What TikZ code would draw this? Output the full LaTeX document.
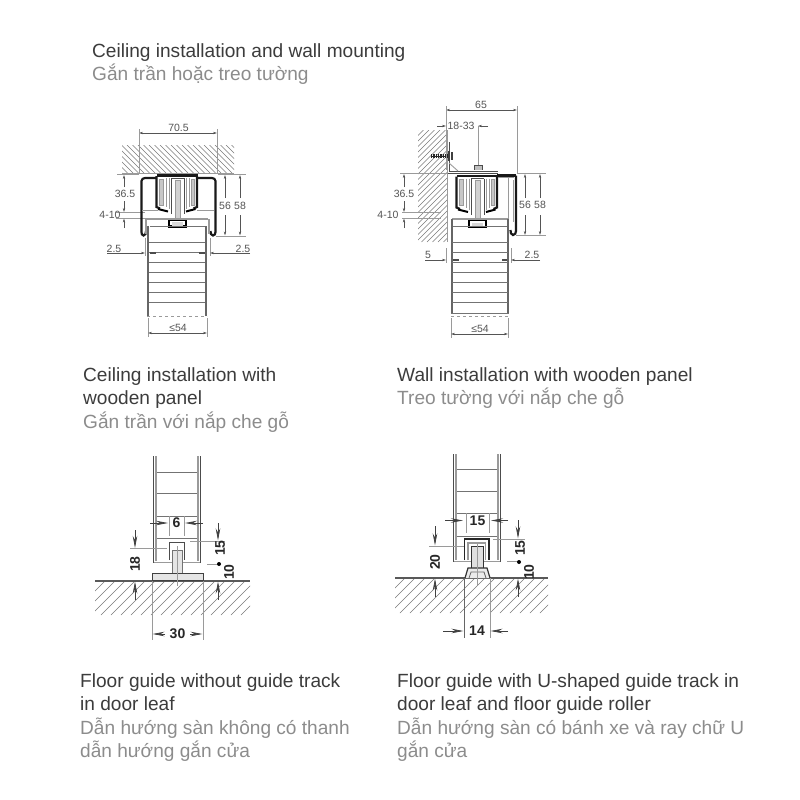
\documentclass[tikz,border=0pt]{standalone}
\usepackage{fontspec}
\setmainfont{Liberation Sans}
\usetikzlibrary{arrows.meta}
\definecolor{inkdark}{HTML}{3C3C3C}
\definecolor{inkgrey}{HTML}{8C8C8C}
\definecolor{dimc}{HTML}{555555}
\definecolor{hatchc}{HTML}{7A7A7A}
\definecolor{railgrey}{HTML}{9A9A9A}
\tikzset{
  heading/.style={anchor=base west,inner sep=0pt,yshift=-1pt,text=inkdark,font=\fontsize{19.1}{22}\selectfont},
  subheading/.style={heading,text=inkgrey},
  dimlabel/.style={inner sep=0pt,text=dimc,font=\fontsize{10.5}{12}\selectfont},
  boldlabel/.style={inner sep=0pt,text=black!85,font=\fontsize{14}{15}\selectfont\bfseries},
  dimthin/.style={draw=dimc,line width=0.6pt},
  extline/.style={draw=railgrey,line width=0.7pt},
  tinyarrow/.style={dimthin,-{Stealth[length=4pt,width=2.4pt]}},
  tinyboth/.style={dimthin,{Stealth[length=4pt,width=2.4pt]}-{Stealth[length=4pt,width=2.4pt]}},
  bigarrow/.style={draw=black!75,line width=0.8pt,-{Stealth[length=12pt,width=4.5pt]}},
  hatchline/.style={draw=hatchc,line width=0.6pt},
  railthick/.style={draw=black!90,line width=2.2pt},
  railthin/.style={draw=black!70,line width=0.9pt},
  railsoft/.style={draw=railgrey,line width=0.9pt},
  wheelfill/.style={draw=railgrey,fill=black!22,line width=0.6pt},
  doorside/.style={draw=black!60,line width=1.8pt},
  doorsoft/.style={draw=railgrey,line width=1.6pt},
  doorrung/.style={draw=black!55,line width=0.7pt},
}
% hatch: x1 y1 x2 y2 spacing direction(+1 = "/", -1 = "\")
\newcommand\hatchbox[6]{%
  \begin{scope}
    \clip (#1,#2) rectangle (#3,#4);
    \pgfmathsetmacro\hh{#4-#2}
    \pgfmathsetmacro\xa{#1-\hh-#5}
    \pgfmathsetmacro\xb{\xa+#5}
    \foreach \xx in {\xa,\xb,...,#3} {
      \ifnum#6>0
        \draw[hatchline] (\xx,#4) -- (\xx+\hh,#2);
      \else
        \draw[hatchline] (\xx,#2) -- (\xx+\hh,#4);
      \fi
    }
  \end{scope}}
% roller carriage, drawn for diagram 1 and shifted for diagram 2
\newcommand\carriagepart{%
  \draw[wheelfill] (159.5,179) rectangle (163,205);
  \draw[wheelfill] (191,179) rectangle (194.5,205);
  \draw[railsoft] (166,178) -- (166,207) (169,178) -- (169,209) (186,178) -- (186,209) (189,178) -- (189,207);
  \draw[railthick] (156.5,175.5) -- (198,175.5);
  \draw[railthick] (156.5,176) -- (156.5,207) -- (160,208.5);
  \draw[black,line width=2pt] (158,209) -- (168,211.5);
  \draw[railthick] (197,176) -- (197,207) -- (193.5,208.5);
  \draw[black,line width=2pt] (195.5,209) -- (186,211.5);
  \draw[railthin] (171,178) -- (171,214) (184,178) -- (184,214);
  \draw[draw=black!40,fill=black!18,line width=0.6pt] (175,180) rectangle (180,218);
  \draw[railthin] (171,178) -- (184,178);
  \draw[black,line width=2.4pt] (169,219.5) rectangle (186,226.5);
  \draw[fill=black!15,draw=none] (172,222) rectangle (183,226);
}
\newcommand\panelrungs[2]{%
  \foreach \yy in {242,252,262,272,282,292,302} \draw[doorrung] (#1,\yy) -- (#2,\yy);
}
\begin{document}
\begin{tikzpicture}[x=1pt,y=-1pt]
\useasboundingbox[fill=white] (0,0) rectangle (800,800);

%% headings
\node[heading] (h1) at (92,56) {Ceiling installation and wall mounting};
\node[subheading] (h1b) at (92,80) {Gắn trần hoặc treo tường};
\node[heading] (h2) at (83,380) {Ceiling installation with};
\node[heading] (h2a) at (83,403) {wooden panel};
\node[subheading] (h2b) at (83,427) {Gắn trần với nắp che gỗ};
\node[heading] (h3) at (397,380) {Wall installation with wooden panel};
\node[subheading] (h3b) at (397,403) {Treo tường với nắp che gỗ};
\node[heading] (h4) at (80,686) {Floor guide without guide track};
\node[heading] (h4a) at (80,709) {in door leaf};
\node[subheading] (h4b) at (80,733) {Dẫn hướng sàn không có thanh};
\node[subheading] (h4c) at (80,756) {dẫn hướng gắn cửa};
\node[heading] (h5) at (397,686) {Floor guide with U-shaped guide track in};
\node[heading] (h5a) at (397,709) {door leaf and floor guide roller};
\node[subheading] (h5b) at (397,733) {Dẫn hướng sàn có bánh xe và ray chữ U};
\node[subheading] (h5c) at (397,756) {gắn cửa};

%% ---------- diagram 1: ceiling
\hatchbox{122}{145}{234}{173}{5.5}{-1}
\draw[extline] (122,173.5) -- (234,173.5);
\draw[extline] (116,212.5) -- (145,212.5) (116,218) -- (145,218);
\carriagepart
% outer profile with hooks
\draw[railthick] (156.5,178) -- (145,178) to[out=180,in=90] (141.5,181) -- (141.5,232) to[out=270,in=180] (143.5,235.5) to[out=0,in=270] (146,231);
\draw[railthick] (197,178) -- (212,178) to[out=0,in=90] (215.5,181) -- (215.5,232) to[out=270,in=0] (213,235.5) to[out=180,in=270] (210.5,231);
\draw[railsoft] (142,210.5) -- (158,210.5) (197,210.5) -- (214,210.5);
% door
\draw[doorsoft] (145,219) -- (208,219);
\draw[doorsoft] (146,219) -- (146,234) (209,219) -- (209,234);
\draw[doorrung] (150,226) -- (205,226);
\draw[doorside] (148,226) -- (148,316);
\draw[doorside] (206,226) -- (206,316);
\panelrungs{149}{205}
\draw[doorsoft,dashed,line width=1pt] (147,316) -- (207,316);
\draw[black!70,line width=1.5pt] (150,253) -- (156,253) (199,253) -- (205,253);
% dims
\draw[tinyboth] (139,133) -- (217,133);
\draw[extline] (139,129) -- (139,174) (217,129) -- (217,174);
\node[dimlabel] (d1a) at (178.5,128) {70.5};
\draw[extline] (218,174.5) -- (246,174.5) (216,236) -- (246,236);
\draw[tinyarrow] (225,198) -- (225,175);
\draw[tinyarrow] (225,215) -- (225,235.5);
\node[dimlabel] (d1b) at (225,206) {56};
\draw[tinyarrow] (240,198) -- (240,175);
\draw[tinyarrow] (240,215) -- (240,235.5);
\node[dimlabel] (d1c) at (240,206) {58};
\draw[tinyarrow] (124,187) -- (124,175);
\draw[extline] (117,174.5) -- (139,174.5);
\node[dimlabel] (d1d) at (125,194) {36.5};
\draw[tinyarrow] (124,201) -- (124,212);
\draw[tinyarrow] (124,228) -- (124,218.5);
\node[dimlabel] (d1e) at (110,215) {4-10};
\draw[extline] (145,238) -- (145,256) (210,238) -- (210,256);
\draw[tinyarrow] (107,253) -- (145,253);
\draw[tinyarrow] (250,253) -- (210,253);
\node[dimlabel] (d1f) at (114,248.5) {2.5};
\node[dimlabel] (d1g) at (243,248.5) {2.5};
\draw[extline] (148,318) -- (148,337) (207,318) -- (207,337);
\draw[tinyboth] (148,333) -- (207,333);
\node[dimlabel] (d1h) at (178,328) {≤54};

%% ---------- diagram 2: wall
\hatchbox{418}{130}{447}{242}{5.5}{1}
\draw[extline] (447,130) -- (447,242);
\draw[extline] (402,212) -- (441,212) (402,218) -- (441,218);
\begin{scope}[xshift=300pt,yshift=-0.5pt]
  \carriagepart
\end{scope}
% bracket
\draw[railthin] (449,142) -- (449,171.5) -- (498,171.5);
\draw[railthin] (447.5,173.5) -- (498,173.5);
\draw[railsoft] (449,163) -- (458,171);
\draw[draw=black!70,fill=black!25,line width=0.7pt] (474,169.5) -- (474,165) -- (482,165) -- (482,169.5);
\draw[black!85,line width=4pt,dash pattern=on 1.4pt off 0.9pt] (431,156) -- (449,156);
\draw[black!85,line width=1pt] (431,156) -- (449,156);
\draw[draw=black!75,line width=1.2pt] (449,151) -- (449,161) (452,152) -- (452,160);
% long right profile
\draw[railthick] (497,175.5) -- (516,175.5);
\draw[railthick] (516,175.5) -- (516,231) to[out=270,in=0] (513,235) to[out=180,in=270] (510.5,230);
\draw[railsoft] (508,177) -- (508,219);
\draw[railsoft] (513,180) -- (513,222);
\draw[railsoft,line width=1.4pt] (498,177.5) -- (514,177.5);
% door
\draw[doorsoft] (452,219) -- (508,219);
\draw[doorrung] (452,226) -- (508,226);
\draw[doorside] (452,219) -- (452,313);
\draw[doorside] (508,219) -- (508,313);
\panelrungs{452}{508}
\draw[doorrung,line width=1pt] (451,313) -- (509,313);
\draw[doorsoft,dashed,line width=1pt] (451,316) -- (509,316);
\draw[black!70,line width=1.5pt] (453,260) -- (459,260) (502,260) -- (507,260);
% dims
\draw[tinyboth] (446,110) -- (517,110);
\draw[extline] (446,106) -- (446,170) (517,106) -- (517,173);
\node[dimlabel] (d2a) at (481,105) {65};
\draw[tinyarrow] (437,126) -- (446,126);
\draw[tinyarrow] (488,126) -- (478,126);
\draw[extline] (478,126) -- (478,165);
\node[dimlabel] (d2b) at (461,126) {18-33};
\draw[extline] (400,173) -- (447,173) (517,173) -- (546,173) (516,235.5) -- (546,235.5);
\draw[tinyarrow] (404,187) -- (404,174);
\node[dimlabel] (d2c) at (404,194) {36.5};
\draw[tinyarrow] (404,201) -- (404,212);
\draw[tinyarrow] (404,228) -- (404,218.5);
\node[dimlabel] (d2d) at (388,215) {4-10};
\draw[tinyarrow] (525,198) -- (525,174);
\draw[tinyarrow] (525,215) -- (525,235);
\node[dimlabel] (d2e) at (525,205) {56};
\draw[tinyarrow] (540,198) -- (540,174);
\draw[tinyarrow] (540,215) -- (540,235);
\node[dimlabel] (d2f) at (540,205) {58};
\draw[extline] (446,248) -- (446,263) (511,248) -- (511,263);
\draw[tinyarrow] (425,260) -- (446,260);
\draw[tinyarrow] (540,260) -- (511,260);
\node[dimlabel] (d2g) at (428,254.5) {5};
\node[dimlabel] (d2h) at (532,254.5) {2.5};
\draw[extline] (451,318) -- (451,338) (508,318) -- (508,338);
\draw[tinyboth] (451,334) -- (508,334);
\node[dimlabel] (d2i) at (480,329) {≤54};

%% ---------- diagram 3: floor guide without track
\hatchbox{95}{581}{250}{615}{10}{1}
\draw[black!65,line width=1.2pt] (95,581) -- (250,581);
\draw[black!70,line width=1.4pt] (153.5,456) -- (153.5,563) (200.5,456) -- (200.5,563);
\draw[railgrey,line width=2.2pt] (156,456) -- (156,561) (198,456) -- (198,561);
\foreach \yy in {472,493,516,538} \draw[doorrung] (157,\yy) -- (197,\yy);
\draw[railgrey,line width=1.6pt] (154,562.5) -- (200,562.5);
% guide block
\draw[draw=black!70,fill=white,line width=1pt] (169,560) -- (169,542) -- (184,542) -- (184,560);
\draw[draw=black!55,fill=black!10,line width=1pt] (172,573) -- (172,550) -- (182,550) -- (182,573);
\draw[draw=black!75,fill=black!10,line width=1pt] (152,580) rectangle (203,573.5);
\draw[railgrey,line width=0.6pt] (177,546) -- (177,586);
% dims
\draw[railgrey,line width=0.7pt] (169,516) -- (169,536) (184,516) -- (184,536);
\draw[bigarrow] (150,523) -- (168,523);
\draw[bigarrow] (203,523) -- (185,523);
\node[boldlabel] (d3a) at (176.5,523) {6};
\draw[extline] (130,548.5) -- (167,548.5);
\draw[bigarrow] (135,530) -- (135,548);
\draw[bigarrow] (135,600) -- (135,581.5);
\node[boldlabel,rotate=90] (d3b) at (135,564) {18};
\draw[extline] (190,541) -- (225,541) (207,564) -- (219,564);
\draw[bigarrow] (218,523) -- (218,540.5);
\draw[bigarrow] (218,600) -- (218,581.5);
\node[boldlabel,rotate=90] (d3c) at (220,548) {15};
\fill[black] (219,564) circle (2pt);
\node[boldlabel,rotate=90] (d3d) at (229,572) {10};
\draw[extline] (152,581) -- (152,640) (203,581) -- (203,640);
\draw[bigarrow] (165,634) -- (152.5,634);
\draw[bigarrow] (190,634) -- (202.5,634);
\node[boldlabel] (d3e) at (177.5,634) {30};

%% ---------- diagram 4: floor guide with U-track
\hatchbox{395}{578}{548}{613}{10}{1}
\draw[black!65,line width=1.2pt] (395,578) -- (548,578);
\draw[black!70,line width=1.4pt] (453.5,454) -- (453.5,562) (500.5,454) -- (500.5,562);
\draw[railgrey,line width=2.2pt] (456,454) -- (456,560) (498,454) -- (498,560);
\foreach \yy in {469,491,513,536} \draw[doorrung] (457,\yy) -- (497,\yy);
\draw[railgrey,line width=1.6pt] (454,561.5) -- (500,561.5);
% track and roller
\draw[draw=black!85,line width=1.6pt] (464.5,560) -- (464.5,539) -- (489,539) -- (489,560);
\draw[railgrey,line width=1.2pt] (468,560) -- (468,543) -- (485.5,543) -- (485.5,560);
\draw[draw=black!80,fill=black!12,line width=1pt] (471,568) -- (471,546) -- (483,546) -- (483,568);
\draw[draw=black!80,fill=black!8,line width=1.2pt] (465,578) -- (468,568) -- (487,568) -- (490,578);
\draw[draw=black!60,line width=0.8pt] (469,578) -- (471,572) -- (484,572) -- (486,578);
\draw[railgrey,line width=0.6pt] (477,543) -- (477,585);
% dims
\draw[railgrey,line width=0.7pt] (466,513) -- (466,533) (489,513) -- (489,533);
\draw[bigarrow] (445,520.5) -- (463,520.5);
\draw[bigarrow] (508,520.5) -- (491,520.5);
\node[boldlabel] (d4a) at (477.5,521) {15};
\draw[extline] (429,546) -- (464,546);
\draw[bigarrow] (435,526) -- (435,545.5);
\draw[bigarrow] (435,597) -- (435,578.5);
\node[boldlabel,rotate=90] (d4b) at (435,562) {20};
\draw[extline] (493,539) -- (525,539) (507,561.5) -- (519,561.5);
\draw[bigarrow] (518,520) -- (518,538.5);
\draw[bigarrow] (518,597) -- (518,578.5);
\node[boldlabel,rotate=90] (d4c) at (520,548) {15};
\fill[black] (519,562) circle (2pt);
\node[boldlabel,rotate=90] (d4d) at (529,572) {10};
\draw[black!60,line width=0.7pt] (464,578) -- (464,638);
\draw[railgrey,line width=1pt] (490,578) -- (490,638);
\draw[bigarrow] (443,631) -- (463.5,631);
\draw[bigarrow] (508,631) -- (490.5,631);
\node[boldlabel] (d4e) at (477,631) {14};
\end{tikzpicture}
\end{document}
